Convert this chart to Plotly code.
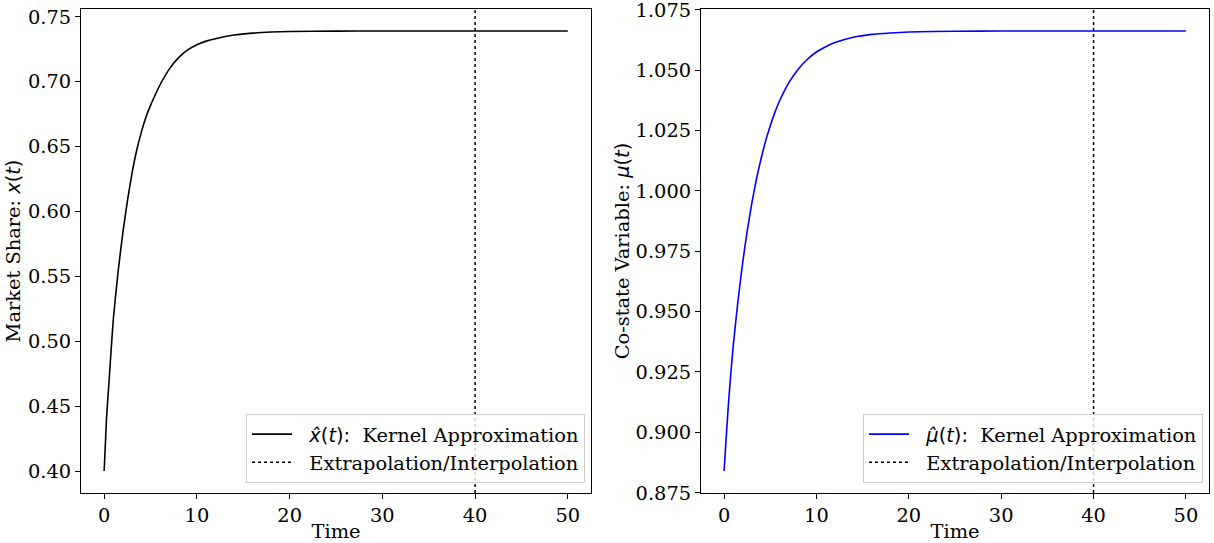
import plotly.graph_objects as go

# Time grid
time = [0, 0.25, 0.5, 0.75, 1, 1.5, 2, 2.5, 3, 3.5, 4, 4.5, 5, 5.5, 6, 7, 8, 9, 10, 11, 12,
        14, 16, 18, 20, 25, 30, 35, 40, 45, 50]

# Market share x(t) (left panel)
market_share = [0.4000, 0.4405, 0.4665, 0.4935, 0.5181, 0.5534, 0.5829, 0.6077, 0.6293, 0.6469,
                0.6609, 0.6725, 0.6817, 0.6897, 0.6972, 0.7094, 0.7183, 0.7244, 0.7284, 0.7312,
                0.7331, 0.7359, 0.7374, 0.7382, 0.7386, 0.7389, 0.7390, 0.7390, 0.7390, 0.7390,
                0.7390]

# Co-state mu(t) (right panel)
costate = [0.8840, 0.8992, 0.9133, 0.9254, 0.9362, 0.9543, 0.9699, 0.9833, 0.9948, 1.0048,
           1.0133, 1.0207, 1.0270, 1.0325, 1.0372, 1.0447, 1.0503, 1.0544, 1.0575, 1.0597,
           1.0614, 1.0636, 1.0648, 1.0654, 1.0658, 1.0661, 1.0662, 1.0662, 1.0662, 1.0662,
           1.0662]

split_time = 40

FONT = "DejaVu Serif"
FS = 19.4
PAD = "\u00a0\u00a0"

fig = go.Figure()

fig.add_trace(go.Scatter(
    x=time, y=market_share, mode="lines",
    line=dict(color="black", width=1.6, shape="spline", smoothing=0.5),
    name=PAD + "<span style=\"font-family:DejaVu Sans\"><i>x̂</i>(<i>t</i>):</span>\u00a0\u00a0Kernel Approximation",
    xaxis="x", yaxis="y", legend="legend"))
fig.add_trace(go.Scatter(
    x=[None], y=[None], mode="lines",
    line=dict(color="black", width=1.5, dash="dot"),
    name=PAD + "Extrapolation/Interpolation", xaxis="x", yaxis="y", legend="legend"))

fig.add_trace(go.Scatter(
    x=time, y=costate, mode="lines",
    line=dict(color="#0000ff", width=1.6, shape="spline", smoothing=0.5),
    name=PAD + "<span style=\"font-family:DejaVu Sans\"><i>μ̂</i>(<i>t</i>):</span>\u00a0\u00a0Kernel Approximation",
    xaxis="x2", yaxis="y2", legend="legend2"))
fig.add_trace(go.Scatter(
    x=[None], y=[None], mode="lines",
    line=dict(color="black", width=1.5, dash="dot"),
    name=PAD + "Extrapolation/Interpolation", xaxis="x2", yaxis="y2", legend="legend2"))

for xr in ["x", "x2"]:
    fig.add_shape(type="line", xref=xr, x0=split_time, x1=split_time,
                  yref=("y" if xr == "x" else "y2") + " domain", y0=0, y1=1,
                  line=dict(color="black", width=1.5, dash="dot"), layer="above")

def span(vals):
    lo, hi = min(vals), max(vals)
    m = (hi - lo) * 0.05
    return [lo - m, hi + m]

tspan = span(time)

axis_common = dict(
    showgrid=False, zeroline=False, showline=True, linecolor="black", linewidth=1,
    mirror=True, ticks="outside", ticklen=5, tickwidth=1, tickcolor="black",
    tickfont=dict(family=FONT, size=FS, color="black"), automargin=False,
    ticklabeloverflow="allow",
)

ytop = 1 - 9 / 543
ybot = 1 - 493 / 543

legend_common = dict(
    xanchor="right", yanchor="bottom",
    bgcolor="rgba(255,255,255,0.8)", bordercolor="#cccccc", borderwidth=1,
    font=dict(family=FONT, size=FS, color="black"), tracegroupgap=0, itemwidth=40,
)

fig.update_layout(
    width=1214, height=543,
    margin=dict(l=0, r=0, t=0, b=0),
    paper_bgcolor="white", plot_bgcolor="white",
    font=dict(family=FONT, size=FS, color="black"),
    xaxis=dict(axis_common, domain=[81 / 1214, 591 / 1214], range=tspan, dtick=10, tick0=0,
               title=dict(text="Time", standoff=2, font=dict(family=FONT, size=FS))),
    yaxis=dict(axis_common, domain=[ybot, ytop], range=span(market_share), dtick=0.05, tick0=0.4,
               tickformat=".2f",
               title=dict(text="Market Share: <span style=\"font-family:DejaVu Sans\"><i>x</i>(<i>t</i>)</span>",
                          standoff=2, font=dict(family=FONT, size=FS))),
    xaxis2=dict(axis_common, domain=[701 / 1214, 1209 / 1214], range=tspan, dtick=10, tick0=0,
                anchor="y2",
                title=dict(text="Time", standoff=2, font=dict(family=FONT, size=FS))),
    yaxis2=dict(axis_common, domain=[ybot, ytop], range=span(costate), dtick=0.025, tick0=0.875,
                tickformat=".3f", anchor="x2",
                title=dict(text="Co-state Variable: <span style=\"font-family:DejaVu Sans\"><i>μ</i>(<i>t</i>)</span>",
                           standoff=0, font=dict(family=FONT, size=FS))),
    legend=dict(legend_common, x=585 / 1214, y=1 - 483 / 543),
    legend2=dict(legend_common, x=1203 / 1214, y=1 - 483 / 543),
    showlegend=True,
)

fig.write_html("out.html", config={"displayModeBar": False},
               post_script="document.body.style.margin='0';document.body.style.padding='0';")
